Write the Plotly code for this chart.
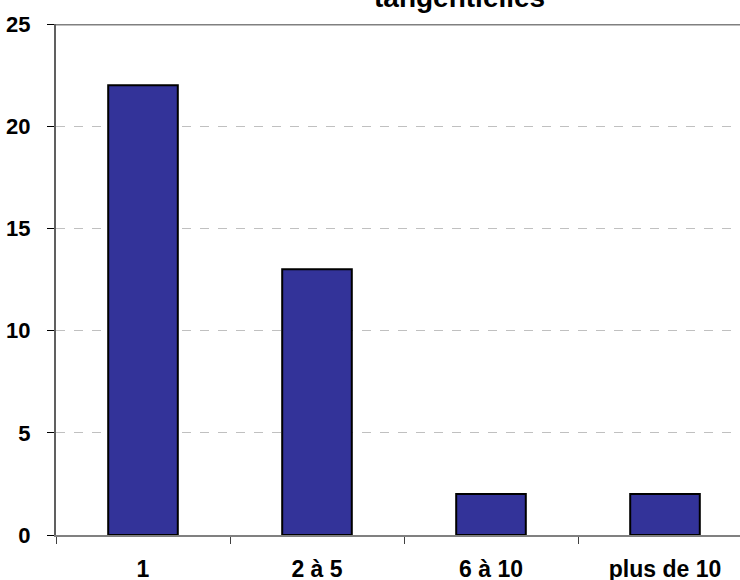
import plotly.graph_objects as go

# Distribution of the number of tangential items per case
categories = ["1", "2 à 5", "6 à 10", "plus de 10"]
counts = [22, 13, 2, 2]
title_text = "tangentielles"

W, H = 740, 580
ML, MR, MT, MB = 56, 0, 24, 45
plot_w = W - ML - MR
plot_h = H - MT - MB

fig = go.Figure(
    go.Bar(
        x=categories,
        y=counts,
        marker=dict(color="#333399", line=dict(color="#000000", width=2)),
        hoverinfo="x+y",
    )
)

font_family = "Liberation Sans, Arial, sans-serif"

fig.update_layout(
    width=W,
    height=H,
    autosize=False,
    margin=dict(l=ML, r=MR, t=MT, b=MB, pad=0),
    paper_bgcolor="white",
    plot_bgcolor="white",
    bargap=0.6,
    showlegend=False,
    font=dict(family=font_family, color="#000000"),
)

fig.update_xaxes(
    type="category",
    range=[-0.5, 3.5 - 12 / 174],
    automargin=False,
    showline=True,
    linecolor="#808080",
    linewidth=2,
    ticks="outside",
    tickson="boundaries",
    ticklen=7,
    tickcolor="#404040",
    tickwidth=1,
    ticklabelstandoff=12,
    showgrid=False,
    tickfont=dict(family=font_family, size=23, color="#000000", weight="bold"),
)

fig.update_yaxes(
    range=[0, 25],
    tick0=0,
    dtick=5,
    automargin=False,
    showline=True,
    linecolor="#606060",
    linewidth=2,
    ticks="outside",
    ticklen=7,
    tickcolor="#000000",
    tickwidth=1,
    ticklabelstandoff=12,
    showgrid=True,
    gridcolor="#c0c0c0",
    griddash="dash",
    gridwidth=1,
    zeroline=False,
    tickfont=dict(family=font_family, size=22, color="#000000", weight="bold"),
)

# Top border of the plot area
fig.add_shape(
    type="line", xref="paper", yref="y", x0=0, x1=1, y0=25, y1=25,
    line=dict(color="#808080", width=3),
)

fig.add_annotation(
    text=title_text,
    xref="paper", yref="paper",
    x=(459 - ML) / plot_w, y=1 + (24 - 15) / plot_h,
    xanchor="center", yanchor="bottom",
    showarrow=False,
    font=dict(family=font_family, size=28, color="#000000", weight="bold"),
)

fig.write_html("out.html")
